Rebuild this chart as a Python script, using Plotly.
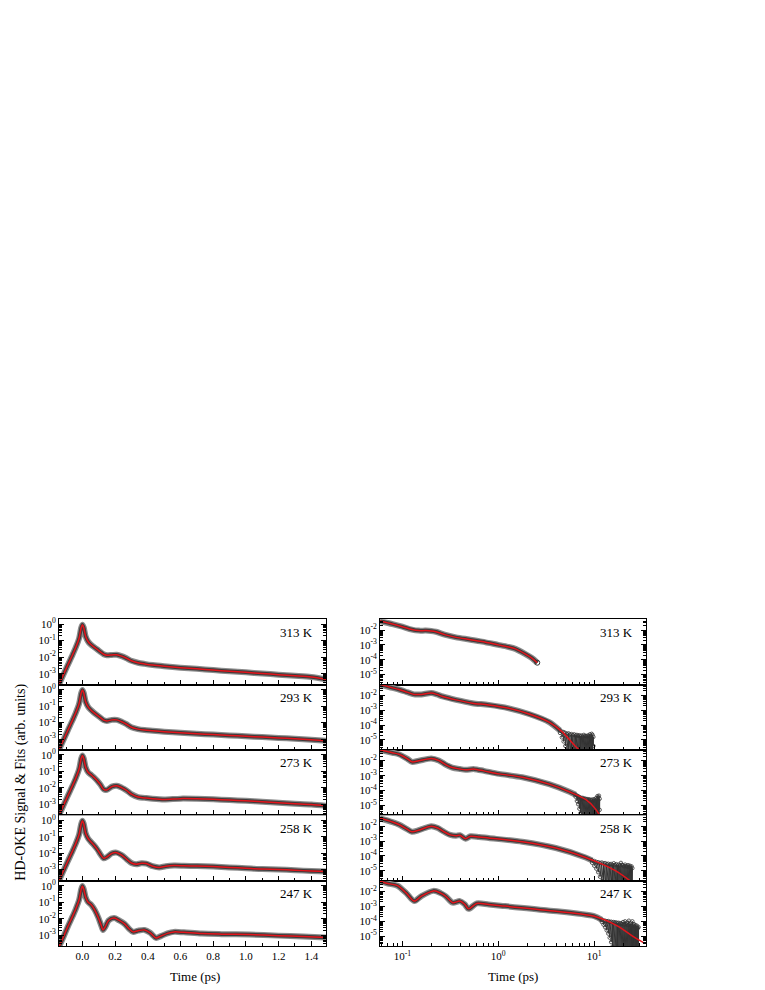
import plotly.graph_objects as go

W, H = 765, 990
TEMPS = ["313 K", "293 K", "273 K", "258 K", "247 K"]

# ---------- Left panels: linear time (ps), log signal ----------
LT_313 = [-0.143, -0.12, -0.09, -0.06, -0.04, -0.02, -0.008, 0.0, 0.008, 0.02, 0.035, 0.05, 0.07, 0.09, 0.11, 0.13, 0.15, 0.18, 0.21, 0.24, 0.27, 0.30, 0.34, 0.38, 0.43, 0.50, 0.60, 0.70, 0.80, 0.90, 1.00, 1.10, 1.20, 1.30, 1.40, 1.49]
LV_313 = [2.2e-4, 7.1e-4, 3.2e-3, 1.4e-2, 4.0e-2, 1.4e-1, 5.6e-1, 9.3e-1, 6.3e-1, 1.8e-1, 8.9e-2, 6.0e-2, 4.2e-2, 3.0e-2, 2.1e-2, 1.5e-2, 1.3e-2, 1.35e-2, 1.4e-2, 1.15e-2, 8.5e-3, 6.0e-3, 4.6e-3, 3.9e-3, 3.3e-3, 2.8e-3, 2.3e-3, 1.95e-3, 1.65e-3, 1.4e-3, 1.2e-3, 1.02e-3, 8.7e-4, 7.4e-4, 6.2e-4, 4.5e-4]

LT_293 = [-0.143, -0.12, -0.09, -0.06, -0.04, -0.02, -0.008, 0.0, 0.008, 0.02, 0.035, 0.05, 0.07, 0.09, 0.11, 0.13, 0.15, 0.18, 0.21, 0.24, 0.27, 0.30, 0.34, 0.38, 0.43, 0.50, 0.60, 0.70, 0.80, 0.90, 1.00, 1.10, 1.20, 1.30, 1.40, 1.49]
LV_293 = [2.2e-4, 7.1e-4, 3.2e-3, 1.4e-2, 4.0e-2, 1.4e-1, 5.6e-1, 9.3e-1, 6.3e-1, 1.8e-1, 8.9e-2, 6.0e-2, 4.0e-2, 2.8e-2, 2.0e-2, 1.4e-2, 1.26e-2, 1.45e-2, 1.45e-2, 1.12e-2, 7.9e-3, 5.2e-3, 4.0e-3, 3.5e-3, 3.2e-3, 2.8e-3, 2.4e-3, 2.1e-3, 1.86e-3, 1.66e-3, 1.48e-3, 1.32e-3, 1.17e-3, 1.05e-3, 9.1e-4, 7.9e-4]

LT_273 = [-0.143, -0.12, -0.09, -0.06, -0.04, -0.02, -0.008, 0.0, 0.008, 0.02, 0.035, 0.05, 0.07, 0.09, 0.11, 0.13, 0.15, 0.18, 0.21, 0.24, 0.27, 0.30, 0.34, 0.38, 0.43, 0.50, 0.60, 0.70, 0.80, 0.90, 1.00, 1.10, 1.20, 1.30, 1.40, 1.49]
LV_273 = [2.2e-4, 7.1e-4, 3.2e-3, 1.4e-2, 4.0e-2, 1.4e-1, 5.6e-1, 9.3e-1, 6.3e-1, 1.8e-1, 8.9e-2, 6.6e-2, 4.5e-2, 2.8e-2, 1.6e-2, 8.3e-3, 7.6e-3, 1.2e-2, 1.35e-2, 1.05e-2, 7.1e-3, 4.2e-3, 2.8e-3, 2.5e-3, 2.2e-3, 2.0e-3, 2.25e-3, 2.2e-3, 2.05e-3, 1.86e-3, 1.66e-3, 1.45e-3, 1.26e-3, 1.12e-3, 1.0e-3, 8.3e-4]

LT_258 = [-0.143, -0.12, -0.09, -0.06, -0.04, -0.02, -0.008, 0.0, 0.008, 0.02, 0.035, 0.05, 0.07, 0.09, 0.11, 0.13, 0.15, 0.18, 0.21, 0.24, 0.27, 0.30, 0.33, 0.36, 0.39, 0.43, 0.47, 0.51, 0.56, 0.62, 0.70, 0.80, 0.90, 1.00, 1.10, 1.20, 1.30, 1.40, 1.49]
LV_258 = [2.2e-4, 7.1e-4, 3.2e-3, 1.4e-2, 4.0e-2, 1.4e-1, 5.6e-1, 9.3e-1, 6.3e-1, 1.66e-1, 7.9e-2, 5.2e-2, 3.2e-2, 1.8e-2, 8.9e-3, 5.0e-3, 6.0e-3, 1.0e-2, 1.1e-2, 7.9e-3, 4.5e-3, 2.6e-3, 2.2e-3, 2.5e-3, 2.4e-3, 1.66e-3, 1.4e-3, 1.66e-3, 1.82e-3, 1.78e-3, 1.7e-3, 1.58e-3, 1.41e-3, 1.26e-3, 1.12e-3, 1.05e-3, 9.5e-4, 8.5e-4, 7.9e-4]

LT_247 = [-0.143, -0.12, -0.09, -0.06, -0.04, -0.02, -0.008, 0.0, 0.008, 0.02, 0.035, 0.053, 0.075, 0.097, 0.115, 0.126, 0.14, 0.16, 0.194, 0.225, 0.258, 0.285, 0.31, 0.34, 0.38, 0.415, 0.45, 0.48, 0.52, 0.56, 0.62, 0.73, 0.85, 1.02, 1.20, 1.35, 1.49]
LV_247 = [2.0e-4, 6.3e-4, 3.2e-3, 1.4e-2, 4.0e-2, 1.4e-1, 5.6e-1, 9.5e-1, 6.3e-1, 2.0e-1, 1.0e-1, 7.2e-2, 3.5e-2, 1.2e-2, 4.0e-3, 2.1e-3, 3.2e-3, 7.9e-3, 1.1e-2, 7.9e-3, 4.9e-3, 2.5e-3, 1.6e-3, 1.9e-3, 2.1e-3, 1.4e-3, 6.9e-4, 8.9e-4, 1.3e-3, 1.6e-3, 1.5e-3, 1.26e-3, 1.17e-3, 1.1e-3, 9.5e-4, 8.3e-4, 7.2e-4]

# ---------- Right panels: log time (ps), log signal ----------
RT_313 = [0.0585, 0.079, 0.1, 0.126, 0.148, 0.175, 0.2, 0.224, 0.282, 0.363, 0.5, 0.676, 1.0, 1.26, 1.51, 1.9, 2.24, 2.55]
RV_313 = [4.0e-2, 2.5e-2, 1.66e-2, 1.07e-2, 9.1e-3, 9.1e-3, 8.7e-3, 7.6e-3, 4.7e-3, 3.2e-3, 2.3e-3, 1.66e-3, 1.0e-3, 7.4e-4, 5.4e-4, 2.5e-4, 1.3e-4, 6.3e-5]
NT_313 = []
NH_313 = []
NL_313 = []

RT_293 = [0.0585, 0.079, 0.092, 0.112, 0.132, 0.158, 0.2, 0.229, 0.263, 0.363, 0.537, 0.794, 1.29, 2.09, 3.39, 4.68, 6.31, 7.41]
RV_293 = [5.6e-2, 3.2e-2, 2.5e-2, 1.66e-2, 1.17e-2, 1.17e-2, 1.45e-2, 1.17e-2, 8.5e-3, 5.0e-3, 3.0e-3, 2.3e-3, 1.35e-3, 5.6e-4, 1.6e-4, 3.4e-5, 4.0e-6, 1.6e-6]
NT_293 = [4.4, 4.6, 4.8, 5.0, 5.2, 5.4, 5.6, 5.8, 6.0, 6.2, 6.4, 6.6, 6.8, 7.0, 7.2, 7.4, 7.6, 7.8, 8.0, 8.2, 8.4, 8.6, 8.8, 9.0, 9.2, 9.4, 9.6, 9.8]
NH_293 = [4.3e-5, 3.7e-5, 3.4e-5, 3.0e-5, 2.6e-5, 2.8e-5, 2.3e-5, 2.5e-5, 2.1e-5, 2.4e-5, 2.0e-5, 2.2e-5, 1.9e-5, 2.1e-5, 1.8e-5, 2.0e-5, 1.7e-5, 2.2e-5, 1.8e-5, 1.9e-5, 1.7e-5, 2.0e-5, 1.8e-5, 2.4e-5, 1.9e-5, 2.6e-5, 2.2e-5, 1.6e-5]
NL_293 = [3.0e-5, 1.5e-5, 8e-6, 4e-6, 2e-6, 1e-6, 1e-6, 1e-6, 1e-6, 1e-6, 1e-6, 1e-6, 1e-6, 1e-6, 1e-6, 1e-6, 1e-6, 1e-6, 1e-6, 1e-6, 1e-6, 1e-6, 1e-6, 1e-6, 1e-6, 1e-6, 1e-6, 4e-6]

RT_273 = [0.0585, 0.079, 0.092, 0.112, 0.126, 0.148, 0.2, 0.24, 0.282, 0.331, 0.398, 0.457, 0.562, 0.708, 1.02, 1.78, 3.39, 5.5, 8.13, 10.2, 11.7]
RV_273 = [5.5e-2, 3.5e-2, 2.75e-2, 1.4e-2, 8.5e-3, 1.0e-2, 1.45e-2, 1.05e-2, 5.6e-3, 3.5e-3, 2.8e-3, 2.5e-3, 2.75e-3, 2.1e-3, 1.32e-3, 7.9e-4, 2.7e-4, 8.3e-5, 2.5e-5, 6.3e-6, 1.6e-6]
NT_273 = [6.4, 6.6, 6.8, 7.0, 7.2, 7.4, 7.6, 7.8, 8.0, 8.2, 8.4, 8.6, 8.8, 9.0, 9.2, 9.4, 9.6, 9.8, 10.0, 10.2, 10.4, 10.6, 10.8, 11.0, 11.2, 11.4]
NH_273 = [5.2e-5, 4.6e-5, 4.2e-5, 3.6e-5, 3.4e-5, 3.0e-5, 3.2e-5, 2.7e-5, 2.9e-5, 2.5e-5, 2.7e-5, 2.3e-5, 2.6e-5, 2.2e-5, 2.4e-5, 2.1e-5, 2.5e-5, 2.0e-5, 2.6e-5, 2.2e-5, 3.0e-5, 2.4e-5, 4.2e-5, 3.5e-5, 4.5e-5, 2.8e-5]
NL_273 = [3.8e-5, 2.0e-5, 1.2e-5, 6e-6, 3e-6, 1e-6, 1e-6, 1e-6, 1e-6, 1e-6, 1e-6, 1e-6, 1e-6, 1e-6, 1e-6, 1e-6, 1e-6, 1e-6, 1e-6, 1e-6, 1e-6, 1e-6, 1e-6, 1e-6, 1e-6, 5e-6]

RT_258 = [0.0585, 0.079, 0.093, 0.112, 0.126, 0.151, 0.2, 0.234, 0.263, 0.316, 0.363, 0.398, 0.457, 0.513, 0.631, 0.794, 1.78, 3.98, 8.13, 12.6, 17.8, 25.1]
RV_258 = [3.4e-2, 1.9e-2, 1.26e-2, 6.3e-3, 4.2e-3, 5.6e-3, 1.0e-2, 7.6e-3, 4.8e-3, 2.6e-3, 2.3e-3, 2.5e-3, 1.45e-3, 2.1e-3, 1.9e-3, 1.6e-3, 8.9e-4, 3.4e-4, 7.9e-5, 2.5e-5, 7.9e-6, 1.6e-6]
NT_258 = [9.5, 10.0, 10.5, 11.0, 11.5, 12.0, 12.5, 13.0, 13.5, 14.0, 14.5, 15.0, 15.5, 16.0, 16.5, 17.0, 17.5, 18.0, 18.5, 19.0, 19.5, 20.0, 20.5, 21.0, 21.5, 22.0, 22.5, 23.0, 23.5, 24.0, 24.5, 25.0]
NH_258 = [5.0e-5, 4.6e-5, 4.0e-5, 3.8e-5, 3.4e-5, 3.6e-5, 3.1e-5, 3.3e-5, 2.8e-5, 3.0e-5, 2.6e-5, 2.9e-5, 2.5e-5, 3.2e-5, 2.4e-5, 2.8e-5, 2.3e-5, 2.6e-5, 2.2e-5, 3.4e-5, 2.5e-5, 2.3e-5, 2.0e-5, 2.6e-5, 2.1e-5, 1.9e-5, 2.4e-5, 1.8e-5, 2.2e-5, 1.7e-5, 2.0e-5, 1.5e-5]
NL_258 = [3.5e-5, 2.2e-5, 1.4e-5, 8e-6, 4e-6, 2e-6, 1e-6, 1e-6, 1e-6, 1e-6, 1e-6, 1e-6, 1e-6, 1e-6, 1e-6, 1e-6, 1e-6, 1e-6, 1e-6, 1e-6, 1e-6, 1e-6, 1e-6, 1e-6, 1e-6, 1e-6, 1e-6, 1e-6, 1e-6, 1e-6, 1e-6, 1e-6]

RT_247 = [0.0585, 0.0708, 0.0891, 0.11, 0.133, 0.158, 0.211, 0.251, 0.282, 0.335, 0.398, 0.447, 0.49, 0.596, 0.794, 1.0, 3.16, 10.0, 17.8, 25.1, 33.9]
RV_247 = [5.0e-2, 3.5e-2, 2.5e-2, 7.9e-3, 2.3e-3, 5.0e-3, 1.12e-2, 7.9e-3, 5.0e-3, 1.8e-3, 2.3e-3, 1.4e-3, 6.9e-4, 1.6e-3, 1.35e-3, 1.17e-3, 5.6e-4, 2.2e-4, 4.6e-5, 1.0e-5, 3.2e-6]
NT_247 = [12.0, 12.5, 13.0, 13.5, 14.0, 14.5, 15.0, 15.5, 16.0, 16.5, 17.0, 17.5, 18.0, 18.5, 19.0, 19.5, 20.0, 20.5, 21.0, 21.5, 22.0, 22.5, 23.0, 23.5, 24.0, 24.5, 25.0, 25.5, 26.0, 26.5, 27.0, 27.5, 28.0, 28.5, 29.0]
NH_247 = [1.25e-4, 1.15e-4, 1.1e-4, 1.0e-4, 1.05e-4, 9.0e-5, 9.5e-5, 8.5e-5, 9.0e-5, 8.0e-5, 8.5e-5, 7.5e-5, 8.0e-5, 7.0e-5, 7.5e-5, 6.5e-5, 9.0e-5, 6.0e-5, 1.0e-4, 6.5e-5, 8.0e-5, 5.5e-5, 1.1e-4, 6.0e-5, 7.0e-5, 5.0e-5, 1.0e-4, 5.5e-5, 6.5e-5, 4.5e-5, 5.5e-5, 4.0e-5, 5.0e-5, 3.5e-5, 4.0e-5]
NL_247 = [9.0e-5, 6.0e-5, 4.0e-5, 2.5e-5, 1.5e-5, 8e-6, 4e-6, 2e-6, 1e-6, 1e-6, 1e-6, 1e-6, 1e-6, 1e-6, 1e-6, 1e-6, 1e-6, 1e-6, 1e-6, 1e-6, 1e-6, 1e-6, 1e-6, 1e-6, 1e-6, 1e-6, 1e-6, 1e-6, 1e-6, 1e-6, 1e-6, 1e-6, 1e-6, 1e-6, 1e-6]

LEFT = [(LT_313, LV_313), (LT_293, LV_293), (LT_273, LV_273), (LT_258, LV_258), (LT_247, LV_247)]
RIGHT = [(RT_313, RV_313, NT_313, NH_313, NL_313), (RT_293, RV_293, NT_293, NH_293, NL_293),
         (RT_273, RV_273, NT_273, NH_273, NL_273), (RT_258, RV_258, NT_258, NH_258, NL_258),
         (RT_247, RV_247, NT_247, NH_247, NL_247)]

LX_TICKS = [0.0, 0.2, 0.4, 0.6, 0.8, 1.0, 1.2, 1.4]
LX_TEXT = ["0.0", "0.2", "0.4", "0.6", "0.8", "1.0", "1.2", "1.4"]
LY_TICKS = [1, 0.1, 0.01, 0.001]
LY_TEXT = ["10<sup>0</sup>", "10<sup>-1</sup>", "10<sup>-2</sup>", "10<sup>-3</sup>"]
RX_TICKS = [0.1, 1, 10]
RX_TEXT = ["10<sup>-1</sup>", "10<sup>0</sup>", "10<sup>1</sup>"]
RY_TICKS = [1e-2, 1e-3, 1e-4, 1e-5]
RY_TEXT = ["10<sup>-2</sup>", "10<sup>-3</sup>", "10<sup>-4</sup>", "10<sup>-5</sup>"]

# ---------- layout geometry (pixels) ----------
TOP, BOT = 610, 938
LX0, LX1 = 51, 318
RX0, RX1 = 372, 638
PH = (BOT - TOP) / 5.0

FONT = "Liberation Serif"
HALO_COL = "#8c8c8c"
DATA_COL = "#3c3c3c"
FIT_COL = "#e3141b"

fig = go.Figure()
layout = dict(width=W, height=H, paper_bgcolor="white", plot_bgcolor="white",
              margin=dict(l=0, r=0, t=0, b=0), showlegend=False,
              font=dict(family=FONT, size=11, color="black"))
annotations = []


def px2x(p):
    return p / W


def px2y(p):
    return 1 - p / H


def band(x, y, xa, ya):
    fig.add_trace(go.Scatter(x=x, y=y, xaxis=xa, yaxis=ya, mode="lines", hoverinfo="skip",
                             line=dict(color=HALO_COL, width=6, shape="spline", smoothing=0.8)))
    fig.add_trace(go.Scatter(x=x, y=y, xaxis=xa, yaxis=ya, mode="lines", hoverinfo="skip",
                             line=dict(color=DATA_COL, width=3.5, shape="spline", smoothing=0.8)))


def fit(x, y, xa, ya):
    fig.add_trace(go.Scatter(x=x, y=y, xaxis=xa, yaxis=ya, mode="lines", hoverinfo="skip",
                             line=dict(color=FIT_COL, width=1.5, shape="spline", smoothing=0.8)))


for k in range(5):
    ytop = TOP + k * PH
    ybot = ytop + PH
    ydom = [px2y(ybot), px2y(ytop)]
    last = (k == 4)
    li = 2 * k + 1
    ri = 2 * k + 2
    lx = "x" if li == 1 else "x%d" % li
    ly = "y" if li == 1 else "y%d" % li
    rx = "x%d" % ri
    ry = "y%d" % ri
    common_x = dict(showline=True, linecolor="black", linewidth=1, mirror=True,
                    ticks="inside", ticklen=5, tickcolor="black", showgrid=False, zeroline=False,
                    tickfont=dict(family=FONT, size=11, color="black"), showticklabels=last)
    common_y = dict(showline=True, linecolor="black", linewidth=1, mirror="allticks",
                    ticks="inside", ticklen=5, tickcolor="black", showgrid=False, zeroline=False,
                    tickfont=dict(family=FONT, size=11, color="black"), type="log")
    layout["xaxis" if li == 1 else "xaxis%d" % li] = dict(
        common_x, domain=[px2x(LX0), px2x(LX1)], anchor=ly, range=[-0.143, 1.49],
        tickmode="array", tickvals=LX_TICKS, ticktext=LX_TEXT,
        minor=dict(ticks="inside", ticklen=3, dtick=0.1, tick0=0, tickcolor="black"))
    layout["yaxis" if li == 1 else "yaxis%d" % li] = dict(
        common_y, domain=ydom, anchor=lx, range=[-3.66, 0.3],
        tickmode="array", tickvals=LY_TICKS, ticktext=LY_TEXT,
        minor=dict(ticks="inside", ticklen=3, dtick="D1", tickcolor="black"))
    layout["xaxis%d" % ri] = dict(
        common_x, domain=[px2x(RX0), px2x(RX1)], anchor=ry, type="log", range=[-1.233, 1.54],
        tickmode="array", tickvals=RX_TICKS, ticktext=RX_TEXT,
        minor=dict(ticks="inside", ticklen=3, dtick="D1", tickcolor="black"))
    layout["yaxis%d" % ri] = dict(
        common_y, domain=ydom, anchor=rx, range=[-5.67, -1.27],
        tickmode="array", tickvals=RY_TICKS, ticktext=RY_TEXT,
        minor=dict(ticks="inside", ticklen=3, dtick="D1", tickcolor="black"))

    # left panel: data band + fit
    lt, lv = LEFT[k]
    band(lt, lv, lx, ly)
    fit(lt, lv, lx, ly)

    # right panel: data band, noisy tail, fit
    rt, rv, nt, nh, nl = RIGHT[k]
    if nt:
        dt = [t for t in rt if t < nt[0]] + [nt[0]]
        dv = rv[:len(dt) - 1] + [nh[0]]
    else:
        dt, dv = rt, rv
    band(dt, dv, rx, ry)
    if nt:
        zx, zy = [], []
        for t, h, l in zip(nt, nh, nl):
            zx += [t, t]
            zy += [h, l]
        fig.add_trace(go.Scatter(x=zx, y=zy, xaxis=rx, yaxis=ry, mode="lines+markers", hoverinfo="skip",
                                 line=dict(color="#333333", width=1),
                                 marker=dict(symbol="circle-open", size=3.5, color="#333333",
                                             line=dict(width=0.8))))
    else:
        fig.add_trace(go.Scatter(x=[rt[-1]], y=[rv[-1]], xaxis=rx, yaxis=ry, mode="markers", hoverinfo="skip",
                                 marker=dict(symbol="circle-open", size=5, color="#333333")))
    fit(rt, rv, rx, ry)

    for xr in (LX1, RX1):
        annotations.append(dict(text=TEMPS[k], xref="paper", yref="paper",
                                x=px2x(xr - 11), y=px2y(ytop + 13), xanchor="right", yanchor="middle",
                                showarrow=False, font=dict(family=FONT, size=13, color="black")))

annotations.append(dict(text="Time (ps)", xref="paper", yref="paper", x=px2x((LX0 + LX1) / 2 + 2),
                        y=px2y(968), xanchor="center", yanchor="middle", showarrow=False,
                        font=dict(family=FONT, size=13, color="black")))
annotations.append(dict(text="Time (ps)", xref="paper", yref="paper", x=px2x((RX0 + RX1) / 2),
                        y=px2y(968), xanchor="center", yanchor="middle", showarrow=False,
                        font=dict(family=FONT, size=13, color="black")))
annotations.append(dict(text="HD-OKE Signal & Fits (arb. units)", xref="paper", yref="paper",
                        x=px2x(13), y=px2y((TOP + BOT) / 2), xanchor="center", yanchor="middle",
                        textangle=-90, showarrow=False, font=dict(family=FONT, size=14, color="black")))
layout["annotations"] = annotations
fig.update_layout(**layout)
fig.write_html("out.html")
